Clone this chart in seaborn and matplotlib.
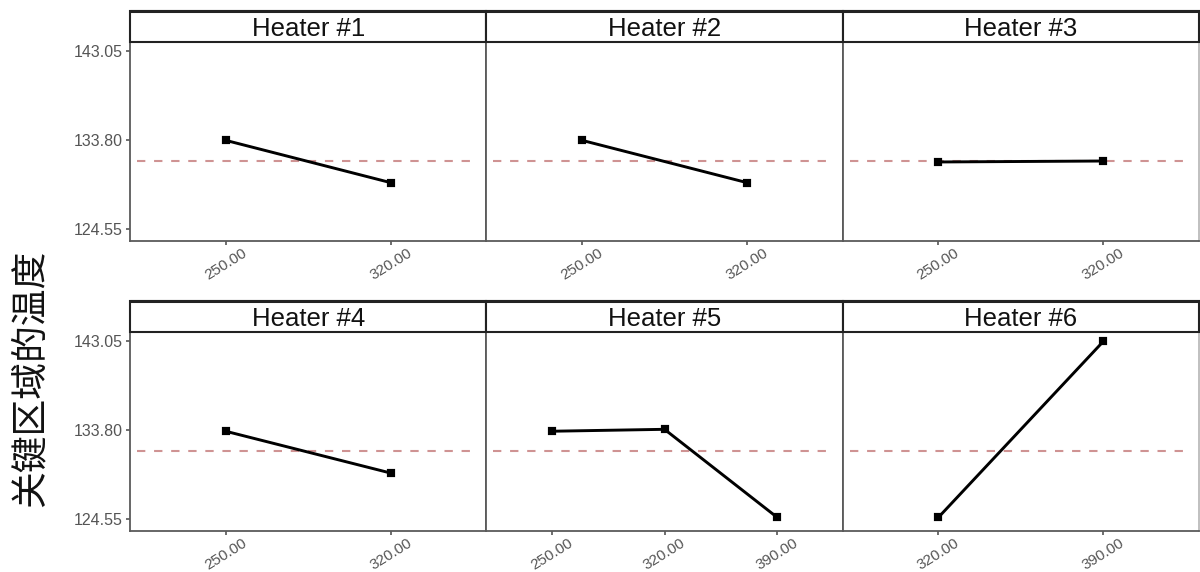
import matplotlib
matplotlib.use('Agg')
import matplotlib.pyplot as plt
import seaborn as sns
import pandas as pd
from matplotlib.patches import Rectangle
from matplotlib.lines import Line2D

# ---- data ----
heaters = ['Heater #1', 'Heater #2', 'Heater #3', 'Heater #4', 'Heater #5', 'Heater #6']
h1_levels = ['250.00', '320.00']
h1_means = [133.80, 129.40]
h2_levels = ['250.00', '320.00']
h2_means = [133.80, 129.40]
h3_levels = ['250.00', '320.00']
h3_means = [131.55, 131.65]
h4_levels = ['250.00', '320.00']
h4_means = [133.70, 129.35]
h5_levels = ['250.00', '320.00', '390.00']
h5_means = [133.70, 133.90, 124.73]
h6_levels = ['320.00', '390.00']
h6_means = [124.73, 143.05]
grand_mean = 131.60
y_ticks = [124.55, 133.80, 143.05]
y_ticklabels = ['124.55', '133.80', '143.05']
y_label = '关键区域的温度'

all_levels = [h1_levels, h2_levels, h3_levels, h4_levels, h5_levels, h6_levels]
all_means = [h1_means, h2_means, h3_means, h4_means, h5_means, h6_means]

rows = []
for h, lv, mv in zip(heaters, all_levels, all_means):
    for l, m in zip(lv, mv):
        rows.append({'heater': h, 'level': l, 'mean': m})
df = pd.DataFrame(rows)

sns.set_style('white')
plt.rcParams['font.family'] = ['Liberation Sans', 'DejaVu Sans']

W, H = 1200, 572
fig, axes = plt.subplots(2, 3, figsize=(12, 5.72), dpi=100, sharey=True)
fig.subplots_adjust(left=130 / W, right=1199 / W, bottom=0.0722, top=0.926,
                    wspace=0.0, hspace=0.461)

frame_col = '#5a5a5a'
tick_col = '#555555'

for idx, (ax, h, lv) in enumerate(zip(axes.flat, heaters, all_levels)):
    sub = df[df['heater'] == h]
    sns.pointplot(data=sub, x='level', y='mean', order=lv, color='black',
                  markers='s', markersize=4.6, linewidth=2.1, errorbar=None, ax=ax)
    n = len(lv)
    ax.set_xlim(-0.58, n - 1 + 0.58)
    ax.set_ylim(123.35, 144.0)
    ax.axhline(grand_mean, xmin=0.02, xmax=0.955, color='#cf9393',
               lw=1.5, ls=(0, (4, 4.2)), zorder=1)
    ax.set_xlabel('')
    ax.set_ylabel('')
    ax.set_yticks(y_ticks)
    ax.set_yticklabels(y_ticklabels)
    for s in ax.spines.values():
        s.set_color(frame_col)
        s.set_linewidth(1.3)
        s.set_visible(True)
    ax.tick_params(axis='x', labelsize=11, colors=tick_col, length=3, width=1.2,
                   direction='out', pad=1, bottom=True)
    if idx % 3 == 0:
        ax.tick_params(axis='y', labelsize=11.5, colors=tick_col, length=3, width=1.2,
                       direction='out', pad=2, left=True)
    else:
        ax.tick_params(axis='y', left=False, labelleft=False)
    for t in ax.get_xticklabels():
        t.set_rotation(32)
        t.set_ha('center')
    # strip header
    ax_h_px = ax.get_position().height * H
    hf = 31.6 / ax_h_px
    ax.add_patch(Rectangle((0, 1), 1, hf, transform=ax.transAxes, clip_on=False,
                           facecolor='white', edgecolor='#222222', lw=1.5, zorder=5))
    ax.text(0.5, 1 + 0.2 * hf, h, transform=ax.transAxes, ha='center', va='baseline',
            fontsize=18.5, color='#111111', zorder=6)
    if idx == 2 or idx == 5:
        ax.spines['right'].set_color('#bbbbbb')

# thick top borders of strip rows
for ytop in (10.7, 300.7):
    fig.add_artist(Line2D([130 / W, 1.0], [1 - ytop / H, 1 - ytop / H],
                          color='#222222', lw=2.2, transform=fig.transFigure))

fig.text(30 / W, 1 - 378 / H, y_label, rotation=90, fontsize=26.5,
         family=['Noto Sans CJK SC', 'DejaVu Sans'], ha='center', va='center',
         color='#111111')

fig.savefig('out.png', dpi=100)
